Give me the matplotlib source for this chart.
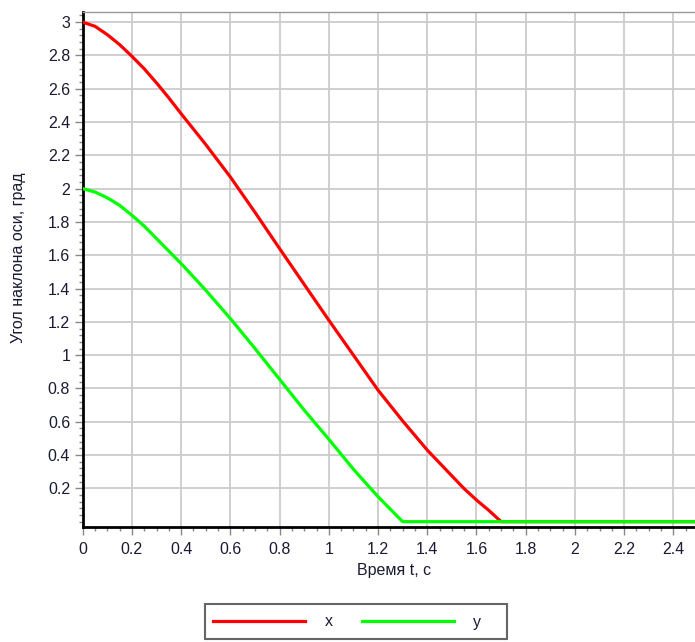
import matplotlib
matplotlib.use("Agg")
import matplotlib.pyplot as plt
from matplotlib.lines import Line2D
from matplotlib.patches import Rectangle
import numpy as np

# Data
t_x = [0.0, 0.05, 0.1, 0.15, 0.2, 0.25, 0.3, 0.35, 0.4, 0.5, 0.6, 0.7, 0.8, 0.9, 1.0,
       1.1, 1.2, 1.3, 1.4, 1.5, 1.55, 1.6, 1.65, 1.7, 2.5]
x_vals = [3.0, 2.975, 2.925, 2.865, 2.795, 2.72, 2.635, 2.545, 2.45, 2.265, 2.07, 1.858, 1.64, 1.425, 1.21,
          1.0, 0.79, 0.605, 0.43, 0.275, 0.198, 0.13, 0.068, 0.0, 0.0]

t_y = [0.0, 0.05, 0.1, 0.15, 0.2, 0.25, 0.3, 0.4, 0.5, 0.6, 0.7, 0.8, 0.9, 1.0, 1.1, 1.2, 1.3, 2.5]
y_vals = [2.0, 1.98, 1.945, 1.90, 1.84, 1.775, 1.70, 1.55, 1.39, 1.22, 1.04, 0.855, 0.67, 0.495, 0.315, 0.15, 0.0, 0.0]

x_ticks = [0, 0.2, 0.4, 0.6, 0.8, 1, 1.2, 1.4, 1.6, 1.8, 2, 2.2, 2.4]
x_tick_labels = ["0", "0.2", "0.4", "0.6", "0.8", "1", "1.2", "1.4", "1.6", "1.8", "2", "2.2", "2.4"]
y_ticks = [0.2, 0.4, 0.6, 0.8, 1, 1.2, 1.4, 1.6, 1.8, 2, 2.2, 2.4, 2.6, 2.8, 3]
y_tick_labels = ["0.2", "0.4", "0.6", "0.8", "1", "1.2", "1.4", "1.6", "1.8", "2", "2.2", "2.4", "2.6", "2.8", "3"]

series_labels = ["x", "y"]
series_colors = ["#ff0000", "#00ff00"]

plt.rcParams['font.family'] = ['Liberation Sans', 'DejaVu Sans']

W, H = 695, 642
fig = plt.figure(figsize=(W / 100, H / 100), dpi=100)
ax_left, ax_right, ax_top, ax_bot = 82.7, 698.0, 11.5, 527.0
ax = fig.add_axes([ax_left / W, 1 - ax_bot / H, (ax_right - ax_left) / W, (ax_bot - ax_top) / H])

ax.set_xlim(0, 2.5)
ax.set_ylim(-0.032, 3.064)

ax.grid(True, which='major', color='#cccccc', linewidth=1.3)
ax.set_axisbelow(True)

ax.plot(t_x, x_vals, color=series_colors[0], linewidth=2.3, solid_joinstyle='round', zorder=3)
ax.plot(t_y, y_vals, color=series_colors[1], linewidth=2.3, solid_joinstyle='round', zorder=4)

ax.set_xticks(x_ticks)
ax.set_xticklabels(x_tick_labels)
ax.set_yticks(y_ticks)
ax.set_yticklabels(y_tick_labels)
ax.set_xticks(np.arange(0, 2.5001, 0.05), minor=True)
ax.set_yticks(np.arange(0, 3.06, 0.04), minor=True)

ax.tick_params(axis='both', which='major', length=6, width=1, color='#888888',
               labelsize=11.5, labelcolor='#1a1a33', direction='out')
ax.tick_params(axis='both', which='minor', length=3, width=1, color='#888888', direction='out')
ax.tick_params(axis='x', pad=5)
ax.tick_params(axis='y', pad=3)

for s in ['left', 'bottom']:
    ax.spines[s].set_color('black')
    ax.spines[s].set_linewidth(2.0)
ax.spines['top'].set_color('#999999')
ax.spines['top'].set_linewidth(1.0)
ax.spines['right'].set_visible(False)

fig.text(394 / W, 1 - 571 / H, "Время t, с", ha='center', va='center', fontsize=11.5, color='#1a1a33')
fig.text(19 / W, 1 - 258 / H, "Угол наклона оси, град", ha='center', va='center',
         rotation=90, fontsize=11.5, color='#1a1a33')

# Legend drawn in figure pixel coordinates
def fx(px):
    return px / W

def fy(py):
    return 1 - py / H

box_l, box_r, box_t, box_b = 205, 507, 604, 639
fig.patches.append(Rectangle((fx(box_l), fy(box_b)), fx(box_r) - fx(box_l), fy(box_t) - fy(box_b),
                             transform=fig.transFigure, facecolor='white', edgecolor='#666666',
                             linewidth=1.5, zorder=5))
legend_items = [(213, 305, 325), (362, 454, 473)]
for (l0, l1, tx), lab, col in zip(legend_items, series_labels, series_colors):
    fig.lines.append(Line2D([fx(l0), fx(l1)], [fy(621), fy(621)], transform=fig.transFigure,
                            color=col, linewidth=2.3, zorder=6))
    fig.text(fx(tx), fy(622), lab, ha='left', va='center', fontsize=11.5, color='#1a1a33', zorder=6)

fig.savefig("out.png", dpi=100)
